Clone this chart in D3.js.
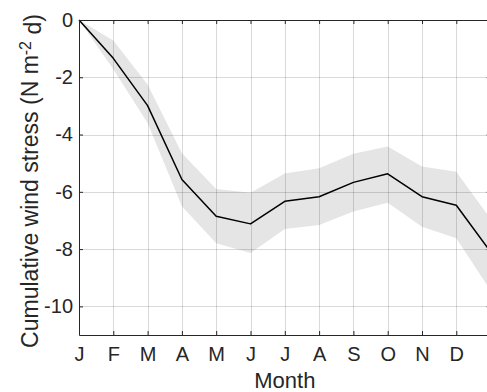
<!DOCTYPE html>
<html>
<head>
<meta charset="utf-8">
<script src="https://cdn.jsdelivr.net/npm/d3@7"></script>
<style>
  html, body { margin: 0; padding: 0; background: #fff; }
  svg { display: block; }
  text { font-family: "Liberation Sans", Arial, Helvetica, sans-serif; fill: #262626; }
</style>
</head>
<body>
<svg id="chart" width="487" height="392"></svg>
<script>
// Month labels (J..D) plus the closing point at the end of the year
const months = ["J", "F", "M", "A", "M", "J", "J", "A", "S", "O", "N", "D"];
const monthIndex = [0, 1, 2, 3, 4, 5, 6, 7, 8, 9, 10, 11, 12];
// Mean cumulative wind stress (N m^-2 d)
const meanStress = [0, -1.34, -2.99, -5.57, -6.85, -7.12, -6.33, -6.17, -5.67, -5.37, -6.17, -6.47, -8.1];
// Upper and lower bounds of the shaded spread
const upperStress = [0, -0.72, -2.25, -4.65, -5.9, -6.03, -5.36, -5.18, -4.67, -4.42, -5.12, -5.3, -6.95];
const lowerStress = [0, -1.72, -3.6, -6.5, -7.8, -8.14, -7.3, -7.16, -6.69, -6.38, -7.22, -7.62, -9.45];
const yTicks = [0, -2, -4, -6, -8, -10];

const svg = d3.select("#chart");
const plotLeft = 79, plotRight = 490.6, plotTop = 20, plotBottom = 335;

const x = d3.scaleLinear().domain([0, 12]).range([plotLeft, plotRight]);
const y = d3.scaleLinear().domain([-11, 0]).range([plotBottom, plotTop]);

// Shaded spread
const area = d3.area()
  .x((d, i) => x(monthIndex[i]))
  .y0((d, i) => y(lowerStress[i]))
  .y1((d, i) => y(upperStress[i]));
svg.append("path")
  .datum(meanStress)
  .attr("d", area)
  .attr("fill", "#e5e5e5")
  .attr("stroke", "none");

// Grid lines
const grid = svg.append("g").attr("stroke", "rgba(0,0,0,0.15)").attr("stroke-width", 1);
grid.selectAll("line.vx").data(monthIndex.slice(1, 12)).enter().append("line")
  .attr("x1", d => Math.round(x(d)) + 0.5).attr("x2", d => Math.round(x(d)) + 0.5)
  .attr("y1", plotTop).attr("y2", plotBottom);
grid.selectAll("line.hy").data(yTicks.slice(1)).enter().append("line")
  .attr("y1", d => Math.round(y(d)) + 0.5).attr("y2", d => Math.round(y(d)) + 0.5)
  .attr("x1", plotLeft).attr("x2", plotRight);

// Mean line
const line = d3.line()
  .x((d, i) => x(monthIndex[i]))
  .y(d => y(d));
svg.append("path")
  .datum(meanStress)
  .attr("d", line)
  .attr("fill", "none")
  .attr("stroke", "#000")
  .attr("stroke-width", 1.5)
  .attr("stroke-linejoin", "round");

// Axes: box with inward ticks on every side
const tickLen = -4;
const axisColor = "#262626";
function styleAxis(g) {
  g.select(".domain").attr("stroke", axisColor).attr("stroke-width", 1);
  g.selectAll(".tick line").attr("stroke", axisColor);
  g.selectAll(".tick text").attr("fill", axisColor);
}

const xAxis = d3.axisBottom(x)
  .tickValues(monthIndex.slice(0, 12))
  .tickFormat(d => months[d])
  .tickSizeInner(tickLen).tickSizeOuter(0).tickPadding(12);
const gx = svg.append("g").attr("transform", `translate(0,${plotBottom})`).call(xAxis);
gx.selectAll(".tick text").style("font-size", "20px").attr("dy", "0.71em");
styleAxis(gx);

const xTop = d3.axisTop(x)
  .tickValues(monthIndex.slice(0, 12))
  .tickFormat("")
  .tickSizeInner(tickLen).tickSizeOuter(0);
const gxt = svg.append("g").attr("transform", `translate(0,${plotTop})`).call(xTop);
styleAxis(gxt);

const yAxis = d3.axisLeft(y)
  .tickValues(yTicks)
  .tickFormat(d => d === 0 ? "0" : String(d).replace("−", "-"))
  .tickSizeInner(tickLen).tickSizeOuter(0).tickPadding(6);
const gy = svg.append("g").attr("transform", `translate(${plotLeft},0)`).call(yAxis);
gy.selectAll(".tick text").style("font-size", "20px");
styleAxis(gy);

const yRight = d3.axisRight(y)
  .tickValues(yTicks)
  .tickFormat("")
  .tickSizeInner(tickLen).tickSizeOuter(0);
const gyr = svg.append("g").attr("transform", `translate(${plotRight},0)`).call(yRight);
styleAxis(gyr);

// Axis titles
svg.append("text")
  .attr("x", (plotLeft + plotRight) / 2)
  .attr("y", 388)
  .attr("text-anchor", "middle")
  .style("font-size", "22px")
  .text("Month");

const yt = svg.append("text")
  .attr("transform", `translate(38,181) rotate(-90)`)
  .attr("text-anchor", "middle")
  .style("font-size", "23px");
yt.append("tspan").text("Cumulative wind stress (N m");
yt.append("tspan").attr("dy", "-0.45em").style("font-size", "16px").text("-2");
yt.append("tspan").attr("dy", "0.45em").text(" d)");
</script>
</body>
</html>
